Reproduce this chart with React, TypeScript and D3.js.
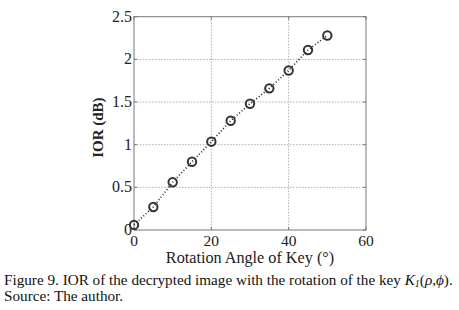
import { useRef, useEffect } from 'react';
import * as d3 from 'd3';

const angles = [0, 5, 10, 15, 20, 25, 30, 35, 40, 45, 50];
const ior = [0.06, 0.27, 0.56, 0.8, 1.035, 1.28, 1.48, 1.66, 1.87, 2.11, 2.28];
const xTicks = [0, 20, 40, 60];
const yTicks = [0, 0.5, 1, 1.5, 2, 2.5];
const yTickLabels = ['0', '0.5', '1', '1.5', '2', '2.5'];

export default function App() {
  const ref = useRef<SVGSVGElement>(null);

  useEffect(() => {
    const svg = d3.select(ref.current);
    svg.selectAll('*').remove();

    const left = 134, right = 366, top = 16.7, bottom = 230;
    const x = d3.scaleLinear().domain([0, 60]).range([left, right]);
    const y = d3.scaleLinear().domain([0, 2.5]).range([bottom, top]);
    const serif = '"Liberation Serif", "Times New Roman", serif';

    svg.append('rect').attr('width', 459).attr('height', 310).attr('fill', '#fff');

    // grid
    const grid = svg.append('g').attr('stroke', '#999').attr('stroke-width', 0.8).attr('stroke-dasharray', '1.5,1.5');
    grid.selectAll('.gx').data(xTicks.slice(1, -1)).join('line')
      .attr('x1', d => x(d)).attr('x2', d => x(d)).attr('y1', top).attr('y2', bottom);
    grid.selectAll('.gy').data(yTicks.slice(1, -1)).join('line')
      .attr('x1', left).attr('x2', right).attr('y1', d => y(d)).attr('y2', d => y(d));

    // frame
    svg.append('rect')
      .attr('x', left).attr('y', top).attr('width', right - left).attr('height', bottom - top)
      .attr('fill', 'none').attr('stroke', '#777').attr('stroke-width', 1);

    // ticks
    const ticks = svg.append('g').attr('stroke', '#777').attr('stroke-width', 1);
    xTicks.forEach(t => {
      ticks.append('line').attr('x1', x(t)).attr('x2', x(t)).attr('y1', bottom).attr('y2', bottom - 3);
      ticks.append('line').attr('x1', x(t)).attr('x2', x(t)).attr('y1', top).attr('y2', top + 3);
    });
    yTicks.forEach(t => {
      ticks.append('line').attr('x1', left).attr('x2', left + 3).attr('y1', y(t)).attr('y2', y(t));
      ticks.append('line').attr('x1', right).attr('x2', right - 3).attr('y1', y(t)).attr('y2', y(t));
    });

    // tick labels
    svg.append('g').selectAll('text').data(xTicks).join('text')
      .attr('x', d => x(d)).attr('y', 245.5)
      .attr('text-anchor', 'middle').attr('font-family', serif).attr('font-size', 15.5).attr('fill', '#222')
      .text(d => d);
    svg.append('g').selectAll('text').data(yTicks).join('text')
      .attr('x', left - 2).attr('y', d => y(d) + 5)
      .attr('text-anchor', 'end').attr('font-family', serif).attr('font-size', 16).attr('fill', '#222')
      .text((d, i) => yTickLabels[i]);

    // axis titles
    svg.append('text')
      .attr('x', 250).attr('y', 263)
      .attr('text-anchor', 'middle').attr('font-family', serif).attr('font-size', 16.2).attr('fill', '#222')
      .text('Rotation Angle of Key (°)');
    svg.append('text')
      .attr('transform', `translate(103, ${y(1.2)}) rotate(-90)`)
      .attr('text-anchor', 'middle').attr('font-family', serif).attr('font-size', 15)
      .attr('font-weight', 'bold').attr('fill', '#222')
      .text('IOR (dB)');

    // line
    const line = d3.line<number>().x((d, i) => x(angles[i])).y(d => y(d));
    svg.append('path').datum(ior)
      .attr('d', line)
      .attr('fill', 'none').attr('stroke', '#222').attr('stroke-width', 1.6)
      .attr('stroke-dasharray', '1,2.2');

    // markers
    svg.append('g').selectAll('circle').data(ior).join('circle')
      .attr('cx', (d, i) => x(angles[i])).attr('cy', d => y(d)).attr('r', 4.2)
      .attr('fill', 'none').attr('stroke', '#333').attr('stroke-width', 2);

    // caption
    const cap = svg.append('text')
      .attr('x', 4).attr('y', 285).attr('font-family', serif).attr('font-size', 15.2).attr('fill', '#111');
    cap.append('tspan').text('Figure 9. IOR of the decrypted image with the rotation of the key ');
    cap.append('tspan').attr('font-style', 'italic').text('K');
    cap.append('tspan').attr('font-style', 'italic').attr('font-size', 10).attr('dy', 2).text('1');
    cap.append('tspan').attr('dy', -2).text('(');
    cap.append('tspan').attr('font-style', 'italic').text('ρ');
    cap.append('tspan').text(',');
    cap.append('tspan').attr('font-style', 'italic').text('ϕ');
    cap.append('tspan').text(').');
    svg.append('text')
      .attr('x', 4).attr('y', 301).attr('font-family', serif).attr('font-size', 15.2).attr('fill', '#111')
      .text('Source: The author.');
  }, []);

  return (
    <svg
      ref={ref}
      width={459}
      height={310}
      style={{ position: 'absolute', left: 0, top: 0 }}
    />
  );
}
